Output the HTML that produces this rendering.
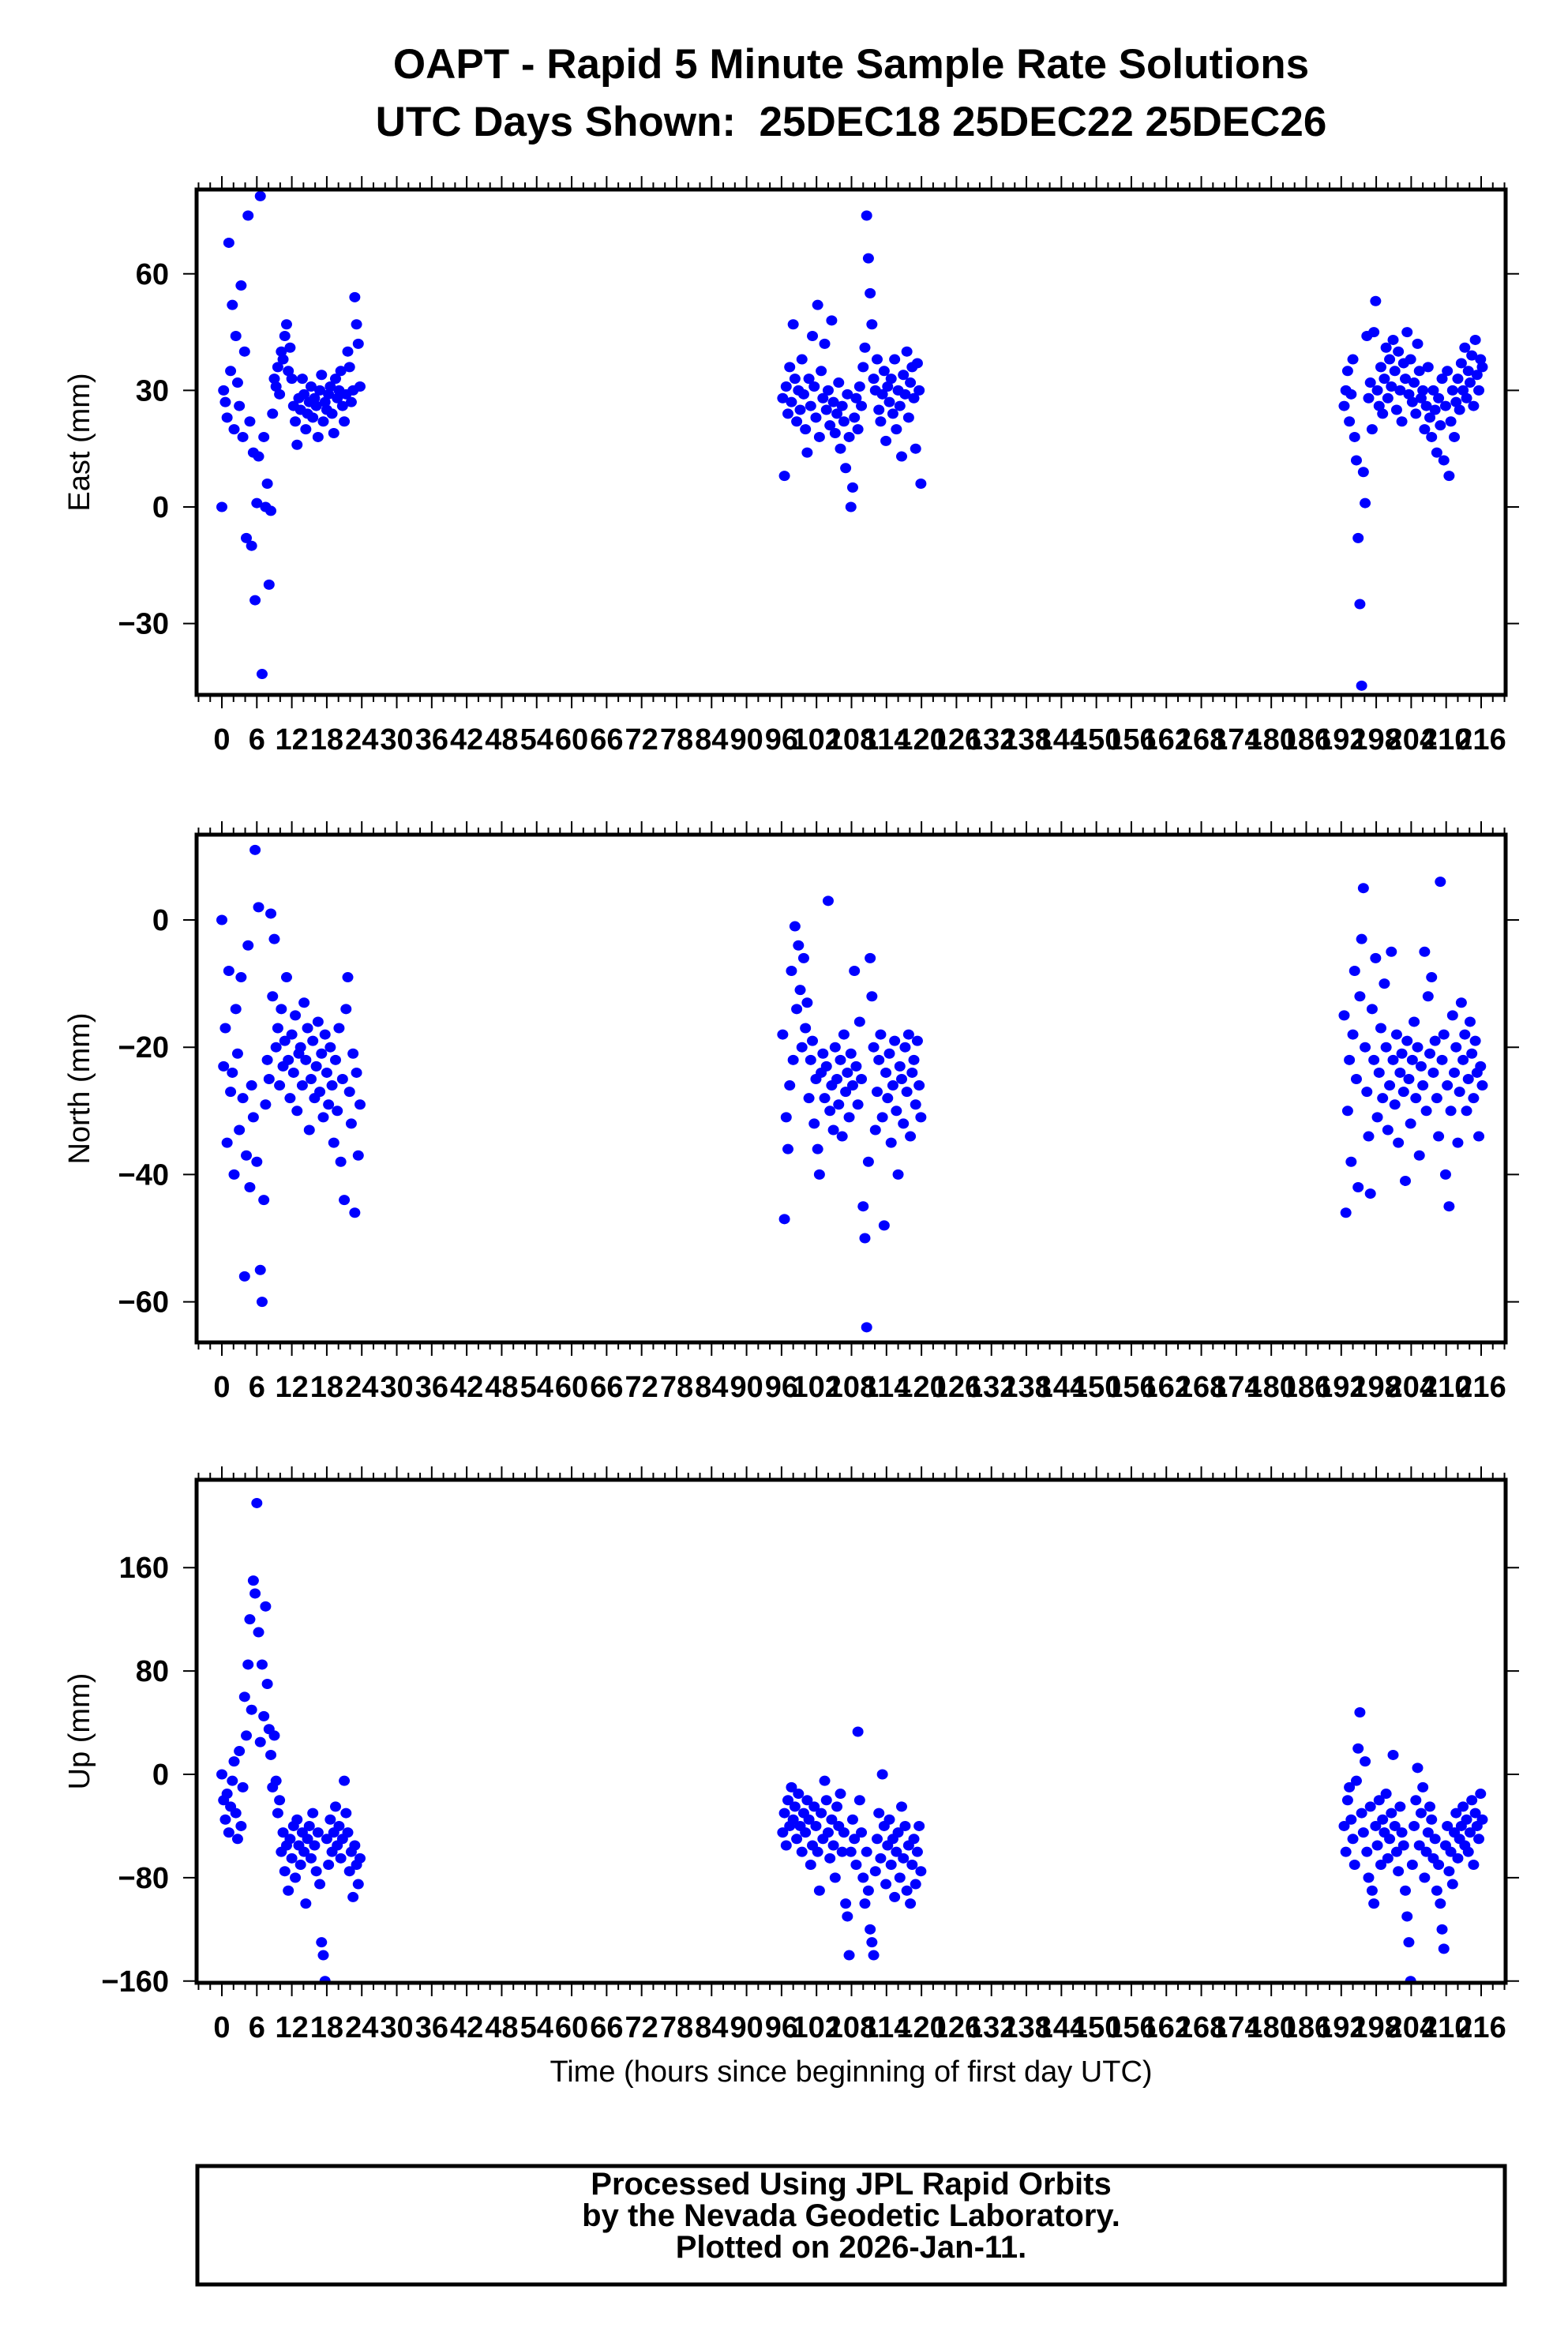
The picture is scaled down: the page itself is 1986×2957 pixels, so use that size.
<!DOCTYPE html>
<html><head><meta charset="utf-8"><style>
html,body{margin:0;padding:0;background:#fff}
svg{display:block}
text{font-family:"Liberation Sans",Arial,sans-serif}
</style></head><body>
<svg id="chart" xmlns="http://www.w3.org/2000/svg" width="1986" height="2957" viewBox="0 0 1986 2957">
<rect width="1986" height="2957" fill="#fff"/>
<text x="1078" y="99" font-size="53" font-weight="bold" text-anchor="middle">OAPT - Rapid 5 Minute Sample Rate Solutions</text>
<text x="1078" y="172" font-size="53" font-weight="bold" text-anchor="middle" xml:space="preserve">UTC Days Shown:  25DEC18 25DEC22 25DEC26</text>
<g id="panels"></g>
<text x="1078" y="2636" font-size="38" text-anchor="middle">Time (hours since beginning of first day UTC)</text>
<rect x="250" y="2743" width="1656" height="150" fill="none" stroke="#000" stroke-width="5"/>
<text x="1078" y="2779" font-size="40" font-weight="bold" text-anchor="middle">Processed Using JPL Rapid Orbits</text>
<text x="1078" y="2819" font-size="40" font-weight="bold" text-anchor="middle">by the Nevada Geodetic Laboratory.</text>
<text x="1078" y="2859" font-size="40" font-weight="bold" text-anchor="middle">Plotted on 2026-Jan-11.</text>
</svg>
<script>
const clusterStarts = [0, 96.2, 192.5];
const sampleStep = 0.3;
const xTickLabels = [];
for (let h = 0; h <= 216; h += 6) xTickLabels.push(h);

const eastC1 = [0,30,27,23,68,35,52,20,44,32,26,57,18,40,-8,75,22,-10,14,-24,1,13,80,-43,18,0,6,-20,-1,24,33,31,36,29,40,38,44,47,35,41,33,26,22,16,28,25,33,29,20,24,27,31,23,28,26,18,30,34,22,27,25,29,31,24,19,33,28,30,35,26,22,29,40,36,27,30,54,47,42,31];
const eastC2 = [28,8,31,24,36,27,47,33,22,30,25,38,29,20,14,33,26,44,31,23,52,18,35,28,42,25,30,21,48,27,19,24,32,15,26,22,10,29,18,0,5,23,28,20,31,26,36,41,75,64,55,47,33,30,38,25,22,29,35,17,31,27,33,24,38,20,30,26,13,34,29,40,23,32,36,28,15,37,30,6];
const eastC3 = [26,30,35,22,29,38,18,12,-8,-25,-46,9,1,44,28,32,20,45,53,30,26,36,24,33,41,28,38,31,43,35,25,40,30,22,37,33,45,29,38,27,32,24,42,35,28,30,20,26,36,23,18,30,25,14,28,21,33,12,26,35,8,22,30,18,27,33,25,37,30,41,28,35,32,39,26,43,34,30,38,36];
const northC1 = [0,-23,-17,-35,-8,-27,-24,-40,-14,-21,-33,-9,-28,-56,-37,-4,-42,-26,-31,11,-38,2,-55,-60,-44,-29,-22,-25,1,-12,-3,-20,-17,-26,-14,-23,-19,-9,-22,-28,-18,-24,-15,-30,-21,-20,-26,-13,-22,-17,-33,-25,-19,-28,-23,-16,-27,-21,-31,-18,-24,-29,-20,-26,-35,-22,-30,-17,-38,-25,-44,-14,-9,-27,-32,-21,-46,-24,-37,-29];
const northC2 = [-18,-47,-31,-36,-26,-8,-22,-1,-14,-4,-11,-20,-6,-17,-13,-28,-22,-19,-32,-25,-36,-40,-24,-21,-28,-23,3,-30,-26,-33,-20,-25,-29,-22,-34,-18,-27,-24,-31,-21,-26,-8,-23,-29,-16,-25,-45,-50,-64,-38,-6,-12,-20,-33,-27,-22,-18,-31,-48,-24,-28,-21,-35,-26,-19,-30,-40,-23,-25,-32,-20,-27,-18,-34,-24,-22,-29,-19,-26,-31];
const northC3 = [-15,-46,-30,-22,-38,-18,-8,-25,-42,-12,-3,5,-20,-27,-34,-43,-14,-22,-6,-31,-24,-17,-28,-10,-20,-33,-26,-5,-22,-29,-18,-35,-24,-21,-27,-41,-19,-25,-32,-22,-16,-28,-20,-37,-23,-26,-5,-30,-12,-21,-9,-24,-19,-28,-34,6,-22,-18,-40,-26,-45,-30,-15,-24,-20,-35,-27,-13,-22,-18,-30,-25,-16,-21,-28,-19,-24,-34,-23,-26];
const upC1 = [0,-20,-35,-15,-45,-25,-5,10,-30,-50,18,-40,-10,60,30,85,120,50,150,140,210,110,25,85,45,130,70,35,15,-10,30,-5,-30,-20,-60,-45,-75,-55,-90,-50,-65,-40,-80,-35,-55,-70,-45,-60,-100,-50,-40,-65,-30,-55,-75,-45,-85,-130,-140,-160,-50,-70,-35,-60,-45,-25,-55,-40,-65,-50,-5,-30,-45,-75,-60,-95,-55,-70,-85,-65];
const upC2 = [-45,-30,-55,-20,-40,-10,-35,-25,-50,-15,-40,-60,-30,-45,-20,-35,-70,-55,-25,-40,-60,-90,-30,-50,-5,-20,-45,-65,-35,-55,-80,-25,-40,-15,-60,-45,-100,-110,-140,-60,-35,-50,-70,33,-20,-45,-80,-100,-60,-90,-120,-130,-140,-75,-50,-30,-65,0,-40,-85,-55,-35,-70,-50,-95,-60,-45,-80,-25,-65,-40,-90,-55,-100,-70,-50,-85,-60,-40,-75];
const upC3 = [-40,-60,-20,-10,-35,-50,-70,-5,20,48,-30,-45,10,-60,-80,-25,-90,-100,-40,-55,-20,-70,-35,-45,-15,-65,-50,-30,15,-40,-60,-75,-25,-45,-55,-90,-110,-130,-160,-70,-40,-20,5,-55,-30,-10,-80,-60,-45,-25,-35,-65,-50,-90,-70,-100,-120,-135,-55,-40,-75,-60,-85,-45,-30,-65,-50,-40,-25,-55,-35,-60,-45,-20,-70,-30,-40,-50,-15,-35];

const eastTicks = [-30, 0, 30, 60];
const northTicks = [-60, -40, -20, 0];
const upTicks = [-160, -80, 0, 80, 160];

const NS = 'http://www.w3.org/2000/svg';
const X0 = 249, X1 = 1907;
function xScale(h){ return 281 + h * (1876 - 281) / 216; }
function mk(tag, attrs, parent){ const e = document.createElementNS(NS, tag); for (const k in attrs) e.setAttribute(k, attrs[k]); parent.appendChild(e); return e; }

const panels = [
  {key:'east', title:'East (mm)', top:240, bottom:880, y0:642, ppu:4.92, ticks:eastTicks, series:[eastC1,eastC2,eastC3]},
  {key:'north', title:'North (mm)', top:1057, bottom:1700, y0:1165, ppu:8.06, ticks:northTicks, series:[northC1,northC2,northC3]},
  {key:'up', title:'Up (mm)', top:1874, bottom:2511, y0:2247, ppu:1.636, ticks:upTicks, series:[upC1,upC2,upC3]}
];
const root = document.getElementById('panels');
panels.forEach(p => {
  const yScale = v => p.y0 - v * p.ppu;
  const g = mk('g', {}, root);
  
  
  for (let h = -4; h <= 220; h += 2) {
    const x = xScale(h); const major = h % 6 === 0; const L = major ? 17 : 9;
    const t1 = mk('line', {x1:x, x2:x, y1:p.bottom, y2:p.bottom + L, stroke:'#000', 'stroke-width':2}, g);
    
    
    const t2 = mk('line', {x1:x, x2:x, y1:p.top, y2:p.top - L, stroke:'#000', 'stroke-width':2}, g);
    
    
  }
  xTickLabels.forEach(h => {
    const t = mk('text', {x:xScale(h), y:p.bottom + 69, 'font-size':38, 'font-weight':'bold', 'text-anchor':'middle'}, g);
    t.textContent = h;
    
    
  });
  p.ticks.forEach(v => {
    const y = yScale(v);
    const a = mk('line', {x1:X0 - 17, x2:X0, y1:y, y2:y, stroke:'#000', 'stroke-width':2}, g);
    
    
    const b = mk('line', {x1:X1, x2:X1 + 17, y1:y, y2:y, stroke:'#000', 'stroke-width':2}, g);
    
    
    const t = mk('text', {x:214, y:y + 13, 'font-size':38, 'font-weight':'bold', 'text-anchor':'end'}, g);
    t.textContent = v < 0 ? '\u2212' + (-v) : String(v);
    
    
  });
  const cy = (p.top + p.bottom) / 2;
  const yt = mk('text', {x:0, y:0, 'font-size':38, 'text-anchor':'middle', transform:'translate(113,' + cy + ') rotate(-90)'}, g);
  yt.textContent = p.title;
  
  
  const clip = 'clip-' + p.key;
  const cp = mk('clipPath', {id:clip}, g);
  mk('rect', {x:X0, y:p.top, width:X1 - X0, height:p.bottom - p.top}, cp);
  const pg = mk('g', {'clip-path':'url(#' + clip + ')'}, g);
  p.series.forEach((vals, ci) => {
    vals.forEach((v, i) => {
      const c = mk('ellipse', {cx:xScale(clusterStarts[ci] + i * sampleStep), cy:yScale(v), rx:7, ry:6.5, fill:'#0000ff'}, pg);
      
      
    });
  });
  const fr = mk('rect', {x:X0, y:p.top, width:X1 - X0, height:p.bottom - p.top, fill:'none', stroke:'#000', 'stroke-width':5}, g);
  
  
});
</script>
</body></html>
